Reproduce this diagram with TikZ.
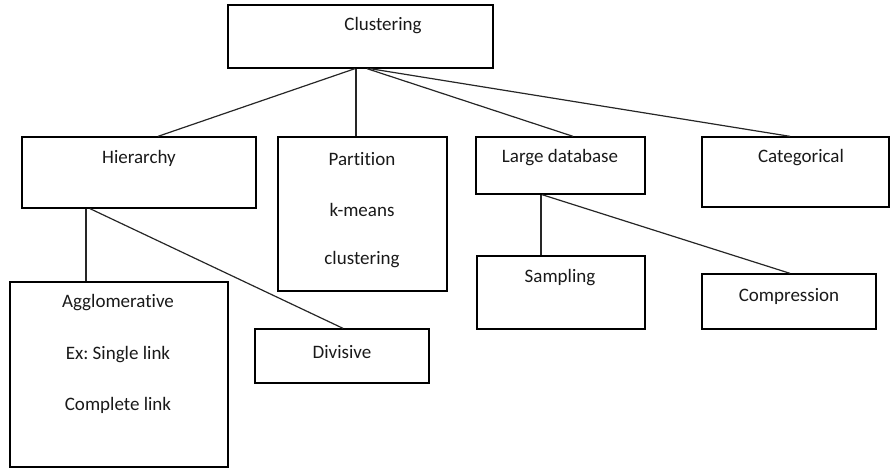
\documentclass[tikz,border=0pt]{standalone}
\usepackage{fontspec}
\setmainfont{Carlito}[Ligatures=NoCommon]
\frenchspacing
\usetikzlibrary{positioning}

\begin{document}
\begin{tikzpicture}[
    x=1pt, y=-1pt,
    box/.style={rectangle, draw, line width=1.3pt, inner sep=0pt},
    txt/.style={inner sep=0pt, font=\fontsize{19}{23}\selectfont, text=black!90},
    link/.style={line width=1.2pt, black!85}
  ]
    \useasboundingbox (0,0) rectangle (891,468);

    % boxes
    \node[box, minimum width=265pt, minimum height=63pt] (clu) at (360.5,36.5) {};
    \node[box, minimum width=234pt, minimum height=71pt] (hie) at (139,172.5) {};
    \node[box, minimum width=169pt, minimum height=154pt] (part) at (362.5,214) {};
    \node[box, minimum width=169pt, minimum height=57pt] (ldb) at (560.5,165.5) {};
    \node[box, minimum width=187pt, minimum height=70pt] (cat) at (795.5,172) {};
    \node[box, minimum width=218pt, minimum height=185pt] (agg) at (119,374.5) {};
    \node[box, minimum width=174pt, minimum height=54pt] (div) at (342,356) {};
    \node[box, minimum width=168pt, minimum height=73pt] (samp) at (561,292.5) {};
    \node[box, minimum width=174pt, minimum height=55pt] (comp) at (789,301.5) {};

    % texts
    \node[txt] (clut) at (383,26) {Clustering};
    \node[txt] (hiet) at (139,158) {Hierarchy};
    \node[txt] (partt) at (362,159) {Partition};
    \node[txt] (kmt) at (362,210) {k-means};
    \node[txt] (clt) at (362,260) {clustering};
    \node[txt] (ldbt) at (560,158) {Large database};
    \node[txt] (catt) at (801,158) {Categorical};
    \node[txt] (aggt) at (118,303) {Agglomerative};
    \node[txt] (sglt) at (118,355) {Ex: Single link};
    \node[txt] (cplt) at (118,405) {Complete link};
    \node[txt] (divt) at (342,352) {Divisive};
    \node[txt] (sampt) at (560,278) {Sampling};
    \node[txt] (compt) at (789,296) {Compression};

    % links
    \draw[link] ([xshift=-5.5pt]clu.south) -- ([xshift=19pt]hie.north);
    \draw[link] ([xshift=-4.5pt]clu.south) -- ([xshift=-6.5pt]part.north);
    \draw[link] ([xshift=6.5pt]clu.south) -- ([xshift=12.5pt]ldb.north);
    \draw[link] ([xshift=9.5pt]clu.south) -- ([xshift=-5.5pt]cat.north);
    \draw[link] ([xshift=-53pt]hie.south) -- ([xshift=-33pt]agg.north);
    \draw[link] ([xshift=-49pt]hie.south) -- ([xshift=1pt]div.north);
    \draw[link] ([xshift=-19.5pt]ldb.south) -- ([xshift=-20pt]samp.north);
    \draw[link] ([xshift=-18.5pt]ldb.south) -- ([xshift=1pt]comp.north);
  \end{tikzpicture}
\end{document}
